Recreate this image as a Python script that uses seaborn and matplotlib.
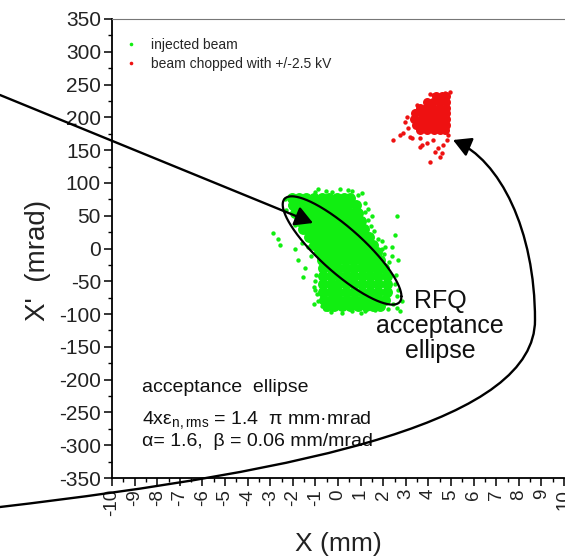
import numpy as np
import pandas as pd
import matplotlib
matplotlib.use("Agg")
import matplotlib.pyplot as plt
import seaborn as sns
from matplotlib.patches import FancyArrowPatch
from matplotlib.path import Path
from matplotlib.lines import Line2D
from matplotlib.ticker import MultipleLocator

# ---------------- data ----------------
# dense core of the injected beam: one list of x values per X' row
green_core_rows_y = [77, 66, 54, 42, 30, 18, 6, -6, -18, -30, -42, -54, -66, -78, -88]
green_core_rows_x = [
    [-2.05, -1.72, -1.4, -1.05, -0.72, -0.38, -0.05, 0.28, 0.52],
    [-2.0, -1.66, -1.32, -0.98, -0.63, -0.28, 0.06, 0.42, 0.78],
    [-1.9, -1.56, -1.22, -0.87, -0.52, -0.17, 0.18, 0.53, 0.88],
    [-1.74, -1.4, -1.05, -0.71, -0.36, -0.01, 0.34, 0.68, 1.0],
    [-1.55, -1.21, -0.86, -0.52, -0.17, 0.18, 0.52, 0.86, 1.15],
    [-1.3, -0.96, -0.62, -0.27, 0.08, 0.42, 0.77, 1.1, 1.38],
    [-1.06, -0.72, -0.37, -0.03, 0.32, 0.66, 1.0, 1.32, 1.56],
    [-0.86, -0.52, -0.17, 0.17, 0.52, 0.86, 1.2, 1.48, 1.72],
    [-0.72, -0.38, -0.03, 0.31, 0.66, 1.0, 1.34, 1.62, 1.88],
    [-0.68, -0.33, 0.01, 0.36, 0.7, 1.05, 1.39, 1.72, 2.04],
    [-0.67, -0.32, 0.03, 0.38, 0.72, 1.07, 1.42, 1.78, 2.16],
    [-0.67, -0.32, 0.02, 0.37, 0.72, 1.06, 1.41, 1.76, 2.18],
    [-0.67, -0.33, 0.01, 0.36, 0.7, 1.05, 1.4, 1.75, 2.16],
    [-0.62, -0.28, 0.06, 0.41, 0.76, 1.1, 1.45, 1.78, 2.08],
    [-0.5, -0.16, 0.18, 0.53, 0.88, 1.22, 1.56, 1.86],
]
# scattered particles of the injected beam
green_halo_x = [-2.89, -2.66, -2.57, -1.91, -1.77, -1.46, -1.55, -1.02, -1.02, -0.89,
                -0.71, -0.57, 0.18, 1.2, 1.96, 2.63, 2.76, 2.85, 2.67, 2.54,
                2.67, 2.4, 2.4, 1.96, 1.78, 2.54, 2.63, 1.51, 1.2, 0.89,
                0.45, -0.26, -1.02, -2.35, -2.13, -1.82, -1.6, -1.33, -0.71, 1.65,
                2.09, 1.87, 0.76, 1.2, 1.34, 1.78, 1.87,
                -0.98, -1.08, -0.95, -1.04, 1.32, 1.47, 1.93, 2.24, 2.58, 2.62,
                -0.9, -0.52, 0.1, 0.62, -0.3, 0.6, 1.02, 1.62, 2.22, 2.42,
                1.05, 1.6, 2.05, -2.28, -1.2, -1.9]
green_halo_y = [23, 15, 5, 0, -18, -29, -44, -49, -64, -80,
                -87, -92, -98, -95, -87, -90, -95, -80, -64, -54,
                -18, -11, 2, 12, 15, 20, 50, 50, 69, 81,
                89, 86, 86, 76, 66, 66, 8, 2, -75, -34,
                2, -3, 70, 55, 43, -29, -49,
                -40, -58, -70, -85, 60, 35, 0, -20, -40, -72,
                90, 88, 91, 88, -97, -96, -99, -94, -93, -84,
                84, 26, -8, 58, -12, 36]

# dense core of the chopped beam
red_core_rows_y = [233, 224, 215, 206, 197, 188, 180]
red_core_rows_x = [
    [4.32, 4.58, 4.80],
    [3.95, 4.22, 4.5, 4.78],
    [3.62, 3.9, 4.18, 4.47, 4.76],
    [3.42, 3.7, 3.98, 4.27, 4.55, 4.8],
    [3.38, 3.66, 3.95, 4.22, 4.5, 4.78],
    [3.45, 3.72, 4.0, 4.3, 4.57, 4.8],
    [3.65, 3.95, 4.25, 4.5, 4.74],
]
red_halo_x = [2.43, 2.74, 2.88, 3.1, 2.96, 3.05, 3.19, 3.27, 3.63, 3.72, 3.94, 4.2,
              3.63, 4.42, 4.29, 4.6, 4.65, 4.51, 4.07, 4.2, 4.73, 4.96, 4.82, 4.87,
              4.05, 3.5]
red_halo_y = [165, 173, 176, 184, 193, 200, 170, 168, 168, 158, 161, 165,
              155, 153, 147, 146, 158, 140, 132, 234, 237, 239, 165, 173,
              236, 219]

# acceptance ellipse (Twiss parameters, geometric emittance)
acc_alpha = 1.6
acc_beta = 0.06          # mm/mrad
acc_eps = 115.0          # mm*mrad (geometric)
acc_center = (0.18, -3.0)

legend_labels = ["injected beam", "beam chopped with +/-2.5 kV"]
x_ticks = list(range(-10, 11))
y_ticks = list(range(-350, 351, 50))


def rows_to_df(rows_y, rows_x):
    xs, ys = [], []
    for yv, xr in zip(rows_y, rows_x):
        xs.extend(xr)
        ys.extend([yv] * len(xr))
    return pd.DataFrame({"x": xs, "y": ys})


green_core = rows_to_df(green_core_rows_y, green_core_rows_x)
red_core = rows_to_df(red_core_rows_y, red_core_rows_x)
green_halo = pd.DataFrame({"x": green_halo_x, "y": green_halo_y})
red_halo = pd.DataFrame({"x": red_halo_x, "y": red_halo_y})

# ---------------- style ----------------
sns.set_theme(style="ticks")
plt.rcParams['font.family'] = ['Liberation Sans', 'DejaVu Sans']
plt.rcParams['axes.unicode_minus'] = False
plt.rcParams['mathtext.fontset'] = 'custom'
plt.rcParams['mathtext.rm'] = 'Liberation Sans'
plt.rcParams['mathtext.it'] = 'Liberation Sans:italic'
plt.rcParams['mathtext.bf'] = 'Liberation Sans:bold'

GREEN = "#11ee11"
RED = "#ee1111"

W, H = 565, 559
fig = plt.figure(figsize=(W / 100, H / 100), dpi=100)
fig.patch.set_facecolor("white")


def fx(px):
    return px / W


def fy(py):
    return 1 - py / H


ax = fig.add_axes([fx(112), fy(478), fx(564) - fx(112), fy(19) - fy(478)])
ax.set_facecolor("white")

sns.scatterplot(data=green_core, x="x", y="y", color=GREEN, s=62, linewidth=0, ax=ax, zorder=2)
sns.scatterplot(data=green_halo, x="x", y="y", color=GREEN, s=10, linewidth=0, ax=ax, zorder=2)
sns.scatterplot(data=red_core, x="x", y="y", color=RED, s=42, linewidth=0, ax=ax, zorder=2)
sns.scatterplot(data=red_halo, x="x", y="y", color=RED, s=10, linewidth=0, ax=ax, zorder=2)

# acceptance ellipse
t = np.linspace(0, 2 * np.pi, 400)
ex = np.sqrt(acc_eps * acc_beta) * np.cos(t) + acc_center[0]
ey = -np.sqrt(acc_eps / acc_beta) * (acc_alpha * np.cos(t) + np.sin(t)) + acc_center[1]
ax.plot(ex, ey, color="black", lw=1.6, zorder=3)

ax.set_xlim(-10, 10)
ax.set_ylim(-350, 350)
ax.set_xticks(x_ticks)
ax.set_yticks(y_ticks)
ax.xaxis.set_minor_locator(MultipleLocator(0.5))
ax.yaxis.set_minor_locator(MultipleLocator(25))
ax.tick_params(axis="x", which="major", length=6, width=1.1, labelsize=13.5,
               labelrotation=90, pad=2, colors="black")
ax.tick_params(axis="y", which="major", length=6, width=1.1, labelsize=15, pad=2, colors="black")
ax.tick_params(which="minor", length=3, width=1.0, colors="black")
for lab in ax.get_xticklabels() + ax.get_yticklabels():
    lab.set_color("#222222")

ax.spines["left"].set_color("black")
ax.spines["bottom"].set_color("black")
ax.spines["left"].set_linewidth(1.3)
ax.spines["bottom"].set_linewidth(1.3)
ax.spines["top"].set_color("#777777")
ax.spines["top"].set_linewidth(0.8)
ax.spines["right"].set_visible(False)

ax.set_xlabel("X (mm)", fontsize=19, color="#222222")
ax.set_ylabel("X'  (mrad)", fontsize=20, color="#222222")
ax.xaxis.set_label_coords(0.5, -0.118)
ax.yaxis.set_label_coords(-0.135, 0.475)

handles = [Line2D([], [], marker="o", ls="", color=GREEN, markersize=2.6, markeredgewidth=0),
           Line2D([], [], marker="o", ls="", color=RED, markersize=2.6, markeredgewidth=0)]
ax.legend(handles, legend_labels, loc="upper left", bbox_to_anchor=(0.027, 0.958),
          frameon=False, fontsize=10, handlelength=1.0, handletextpad=0.9,
          borderaxespad=0, borderpad=0, labelspacing=0.35)

# text annotations
fig.text(fx(142), fy(387), "acceptance  ellipse", fontsize=14, ha="left", va="center", color="#111111")
fig.text(fx(142), fy(420), "4xε$_{\\mathrm{n,rms}}$ = 1.4  π mm·mrad", fontsize=14,
         ha="left", va="center", color="#111111")
fig.text(fx(142), fy(442), "α= 1.6,  β = 0.06 mm/mrad", fontsize=14,
         ha="left", va="center", color="#111111")
fig.text(fx(440), fy(326), "RFQ\nacceptance\nellipse", fontsize=18, ha="center", va="center",
         multialignment="center", linespacing=1.05, color="#111111")

# arrows
arrow1 = FancyArrowPatch((fx(0), fy(95)), (fx(313), fy(223)), transform=fig.transFigure,
                         arrowstyle="-|>,head_length=0.9,head_width=0.5", mutation_scale=12,
                         color="black", lw=1.7, shrinkA=0, shrinkB=0, zorder=5)
fig.add_artist(arrow1)

verts = [(0, 507), (315, 470), (535, 420), (535, 320), (535, 230), (500, 160), (453, 140)]
verts = [(fx(a), fy(b)) for a, b in verts]
codes = [Path.MOVETO] + [Path.CURVE4] * 6
arrow2 = FancyArrowPatch(path=Path(verts, codes), transform=fig.transFigure,
                         arrowstyle="-|>,head_length=0.9,head_width=0.5", mutation_scale=12,
                         color="black", lw=1.7, zorder=5)
fig.add_artist(arrow2)

fig.savefig("out.png", dpi=100, facecolor="white")
